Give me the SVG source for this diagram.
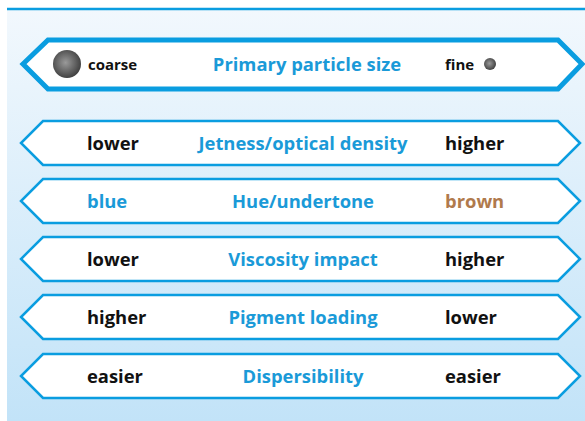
<svg xmlns="http://www.w3.org/2000/svg" width="585" height="421" viewBox="0 0 585 421">
<defs>
<linearGradient id="bg" x1="0" y1="0" x2="0" y2="1">
<stop offset="0" stop-color="#f2f8fd"/>
<stop offset="1" stop-color="#c2e3f8"/>
</linearGradient>
<radialGradient id="ball" cx="0.45" cy="0.45" r="0.6">
<stop offset="0" stop-color="#9a9a9a"/>
<stop offset="1" stop-color="#3a3a3a"/>
</radialGradient>
</defs>
<style>
.sh{fill:#fff;stroke:#0a9de0;stroke-width:2.5;stroke-linejoin:miter}
.t{font-family:"Open Sans","Noto Sans",sans-serif;font-weight:bold;font-size:18.4px}
.k{fill:#111}
.b{fill:#1a9ad8}
.br{fill:#b07a4c}
.m{text-anchor:middle}
</style>
<rect x="7" y="9" width="578" height="412" fill="url(#bg)"/>
<line x1="7" y1="9" x2="585" y2="9" stroke="#0a9de0" stroke-width="2.5"/>
<g id="row0">
<polygon class="sh" style="stroke-width:5" points="48,40 558,40 582,64 558,89 48,89 23,64"/>
<circle cx="67" cy="64" r="14" fill="url(#ball)"/>
<text class="t k" x="88" y="70" style="font-size:15px">coarse</text>
<text class="t b m" x="307" y="71">Primary particle size</text>
<text class="t k" x="445" y="70" style="font-size:15px">fine</text>
<circle cx="490" cy="64" r="6" fill="url(#ball)"/>
</g>
<g id="row1">
<polygon class="sh" points="43,121 558,121 580,143 558,165 43,165 21,143"/>
<text class="t k" x="87" y="150">lower</text>
<text class="t b m" x="303" y="150">Jetness/optical density</text>
<text class="t k" x="445" y="150">higher</text>
</g>
<g id="row2">
<polygon class="sh" points="43,179 558,179 580,201 558,223 43,223 21,201"/>
<text class="t b" x="87" y="208">blue</text>
<text class="t b m" x="303" y="208">Hue/undertone</text>
<text class="t br" x="445" y="208">brown</text>
</g>
<g id="row3">
<polygon class="sh" points="43,237 558,237 580,259 558,281 43,281 21,259"/>
<text class="t k" x="87" y="266">lower</text>
<text class="t b m" x="303" y="266">Viscosity impact</text>
<text class="t k" x="445" y="266">higher</text>
</g>
<g id="row4">
<polygon class="sh" points="43,295 558,295 580,317 558,339 43,339 21,317"/>
<text class="t k" x="87" y="324">higher</text>
<text class="t b m" x="303" y="324">Pigment loading</text>
<text class="t k" x="445" y="324">lower</text>
</g>
<g id="row5">
<polygon class="sh" points="43,354 558,354 580,376 558,398 43,398 21,376"/>
<text class="t k" x="87" y="383">easier</text>
<text class="t b m" x="303" y="383">Dispersibility</text>
<text class="t k" x="445" y="383">easier</text>
</g>
<g id="connectors"></g>
</svg>
